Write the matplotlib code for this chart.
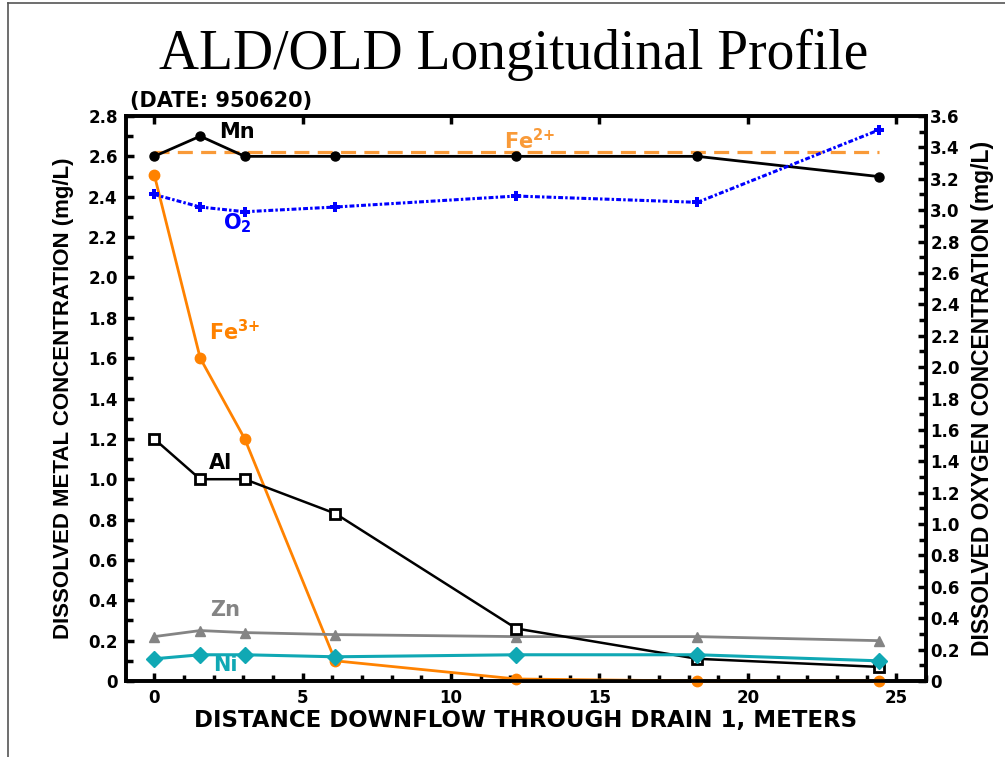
import matplotlib
matplotlib.use("Agg")
import matplotlib.pyplot as plt
from matplotlib.lines import Line2D
from matplotlib.ticker import MultipleLocator, FuncFormatter

# ---- data ----
distance = [0, 1.55, 3.05, 6.1, 12.2, 18.3, 24.4]
mn = [2.6, 2.7, 2.6, 2.6, 2.6, 2.6, 2.5]
fe2 = [2.62, 2.62, 2.62, 2.62, 2.62, 2.62, 2.62]
fe3 = [2.51, 1.6, 1.2, 0.10, 0.01, 0.0, 0.0]
al = [1.2, 1.0, 1.0, 0.83, 0.26, 0.11, 0.07]
zn = [0.22, 0.25, 0.24, 0.23, 0.22, 0.22, 0.20]
ni = [0.11, 0.13, 0.13, 0.12, 0.13, 0.13, 0.10]
o2 = [3.10, 3.02, 2.99, 3.02, 3.09, 3.05, 3.51]

ORANGE = "#FF8200"
ORANGE_L = "#F99A38"
TEAL = "#10A8B4"
GRAY = "#848484"
BLUE = "#0000FF"

plt.rcParams['font.family'] = ['Liberation Sans', 'DejaVu Sans']
plt.rcParams['mathtext.fontset'] = 'custom'
plt.rcParams['mathtext.bf'] = 'DejaVu Sans:bold'
plt.rcParams['mathtext.rm'] = 'DejaVu Sans:bold'
WIDE = ['DejaVu Sans']

fig = plt.figure(figsize=(10.05, 7.57), dpi=100)
ax = fig.add_axes([126/1005, 1-681/757, 800/1005, 565/757])
ax2 = ax.twinx()

ax.set_xlim(-0.95, 26.0)
ax.set_ylim(0, 2.8)
ax2.set_ylim(0, 3.6)

kw = dict(clip_on=False)
ax.plot(distance, fe2, color=ORANGE_L, lw=2.3, dashes=(4.7, 2.6), zorder=2, **kw)
ax.plot(distance, mn, color="black", lw=2, marker="o", ms=6.5, zorder=3, **kw)
ax.plot(distance, fe3, color=ORANGE, lw=2, marker="o", ms=7.5, zorder=3, **kw)
ax.plot(distance, al, color="black", lw=1.8, marker="s", ms=7, mfc="white",
        mec="black", mew=2, zorder=4, **kw)
ax.plot(distance, zn, color=GRAY, lw=2, marker="^", ms=7, zorder=3, **kw)
ax.plot(distance, ni, color=TEAL, lw=2.2, marker="D", ms=8, zorder=5, **kw)
ax2.plot(distance, o2, color=BLUE, lw=2.2, dashes=(1.6, 0.7, 0.8, 0.7),
         marker="P", ms=7, mew=0, zorder=3, **kw)

# spines
for a in (ax, ax2):
    for s in a.spines.values():
        s.set_linewidth(2.6)
    a.set_facecolor("none")

# ticks
ax.xaxis.set_major_locator(MultipleLocator(5))
ax.xaxis.set_minor_locator(MultipleLocator(1))
ax.yaxis.set_major_locator(MultipleLocator(0.2))
ax.yaxis.set_minor_locator(MultipleLocator(0.1))
ax2.yaxis.set_major_locator(MultipleLocator(0.2))
ax2.yaxis.set_minor_locator(MultipleLocator(0.1))

def fmt1(v, p):
    return "0" if abs(v) < 1e-9 else f"{v:.1f}"

ax.yaxis.set_major_formatter(FuncFormatter(fmt1))
ax2.yaxis.set_major_formatter(FuncFormatter(fmt1))
ax.xaxis.set_major_formatter(FuncFormatter(lambda v, p: f"{v:.0f}"))

ax.tick_params(axis="x", which="major", direction="in", length=6, width=2.5,
               top=True, labelsize=12, pad=6)
ax.tick_params(axis="x", which="minor", direction="in", length=4, width=2.5,
               top=False)
ax.tick_params(axis="y", which="major", direction="in", length=6, width=2.5,
               labelsize=12, pad=6)
ax.tick_params(axis="y", which="minor", direction="in", length=5, width=2.5)
ax2.tick_params(axis="y", which="major", direction="in", length=6, width=2.5,
                labelsize=12, pad=3)
ax2.tick_params(axis="y", which="minor", direction="in", length=5, width=2.5)
for lab in ax.get_xticklabels() + ax.get_yticklabels() + ax2.get_yticklabels():
    lab.set_fontweight("bold")
    lab.set_family(WIDE)

ax.set_xlabel("DISTANCE DOWNFLOW THROUGH DRAIN 1, METERS", fontsize=16.5,
              fontweight="bold", family=WIDE, labelpad=1)
ax.set_ylabel("DISSOLVED METAL CONCENTRATION (mg/L)", fontsize=16,
              fontweight="bold", labelpad=10)
ax2.set_ylabel("DISSOLVED OXYGEN CONCENTRATION (mg/L)", fontsize=16.5,
               fontweight="bold", labelpad=8)

# series labels
tk = dict(fontsize=15, fontweight="bold", ha="center", va="center", family=WIDE)
ax.text(2.8, 2.72, "Mn", color="black", **tk)
ax.text(12.65, 2.68, "Fe$^{\\mathbf{2{+}}}$", color=ORANGE_L, **tk)
ax.text(2.8, 2.27, "O$_{\\mathbf{2}}$", color=BLUE, **tk)
ax.text(2.72, 1.73, "Fe$^{\\mathbf{3{+}}}$", color=ORANGE, **tk)
ax.text(2.25, 1.08, "Al", color="black", **tk)
ax.text(2.4, 0.35, "Zn", color=GRAY, **tk)
ax.text(2.4, 0.08, "Ni", color=TEAL, **tk)

fig.text(514/1005, 1-55/757, "ALD/OLD Longitudinal Profile", fontsize=40,
         family="Liberation Serif", ha="center", va="center")
fig.text(130/1005, 1-101/757, "(DATE: 950620)", fontsize=15,
         fontweight="bold", family=WIDE, ha="left", va="center")

# page frame
fig.add_artist(Line2D([8/1005, 1.0], [1-2.5/757, 1-2.5/757], color="#555555",
                      lw=1.2, transform=fig.transFigure))
fig.add_artist(Line2D([8/1005, 8/1005], [0, 1-2.5/757], color="#555555",
                      lw=1.2, transform=fig.transFigure))

fig.savefig("out.png", dpi=100)
